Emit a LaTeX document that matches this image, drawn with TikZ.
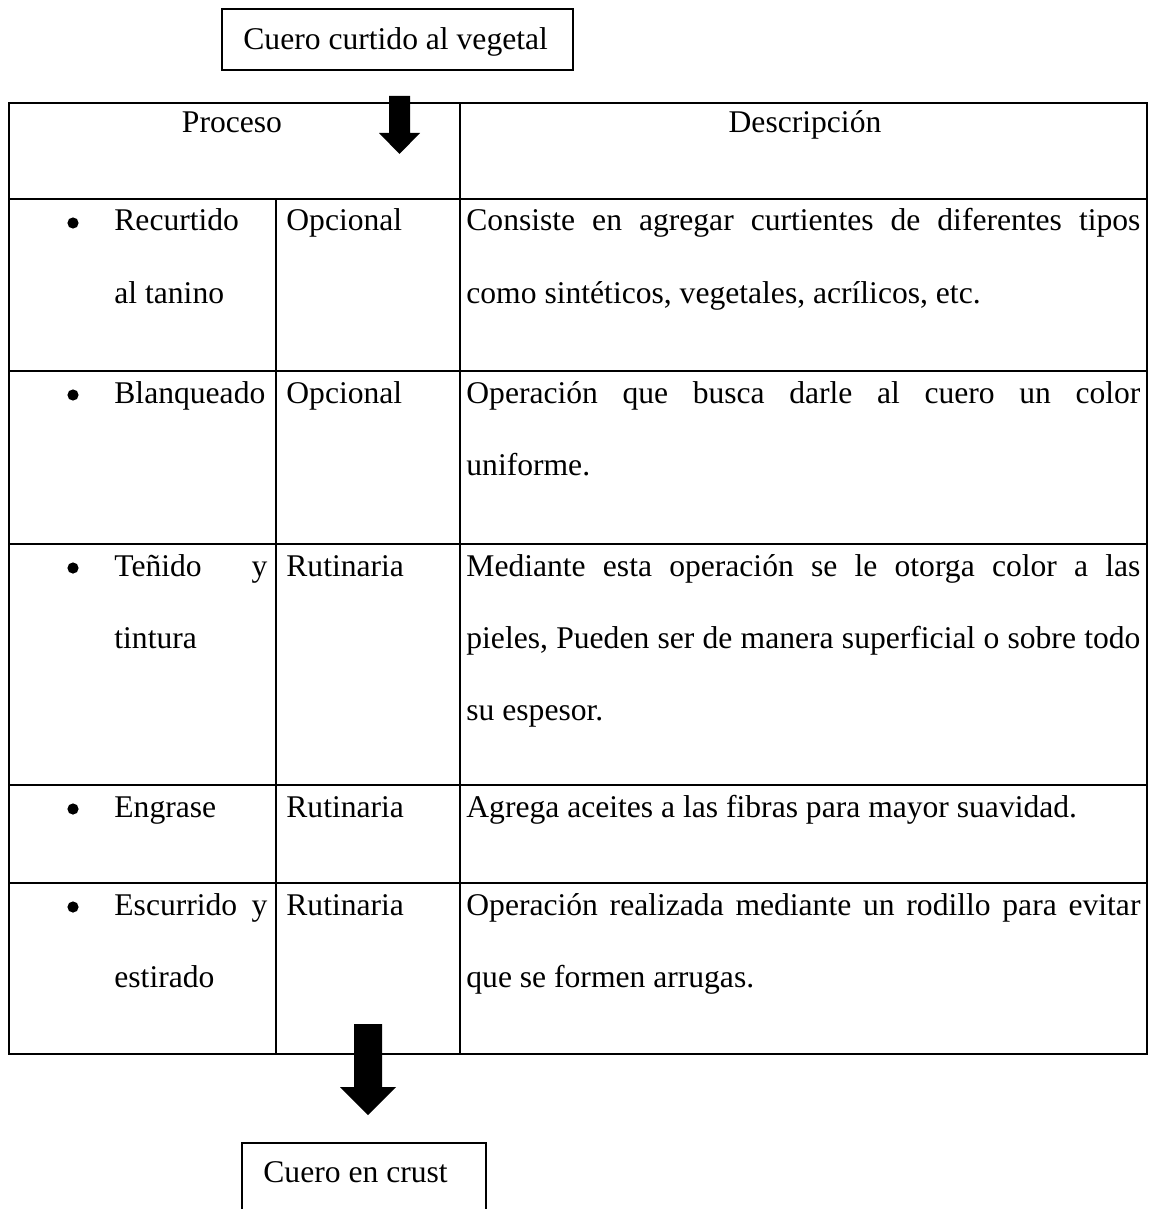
\documentclass[tikz,border=0pt]{standalone}
\usepackage{fontspec}
\setmainfont{Liberation Serif}
\begin{document}
\begin{tikzpicture}[x=0.5pt,y=-0.5pt,
  txt/.style={inner sep=0pt,anchor=base west,font=\fontsize{15.8pt}{18pt}\selectfont},
  ctxt/.style={txt,anchor=base},
  dot/.style={circle,fill=black,inner sep=0pt,minimum size=5.6pt},
  grid/.style={line width=1.15pt,black},
  boxline/.style={line width=0.85pt,black},
  blockarrow/.style={fill=black,draw=none}]
\clip (0,0) rectangle (1150,1209);
\fill[white] (0,0) rectangle (1150,1209);

% start and end boxes
\draw[boxline] (222,9) rectangle (573,70);
\node[txt] (start) at (243,50) {Cuero curtido al vegetal};
\draw[boxline] (242,1143) rectangle (486,1260);
\node[txt] (finish) at (263,1182) {Cuero en crust};

% table frame
\draw[grid] (9,103) rectangle (1147,1054);
\foreach \y in {199,371,544,785,883} \draw[grid] (9,\y) -- (1147,\y);
\draw[grid] (460,103) -- (460,1054);
\draw[grid] (276,199) -- (276,1054);

% header
\node[ctxt] (hproc) at (232,133) {Proceso};
\node[ctxt] (hdesc) at (805,133) {Descripción};

% column widths for justified lines
\def\cw{76.5pt}
\def\dw{337pt}

% row 1
\node[dot] (b1) at (73,223) {};
\node[txt] (p1a) at (114,231) {Recurtido};
\node[txt] (p1b) at (114,303) {al tanino};
\node[txt] (t1) at (286,231) {Opcional};
\node[txt] (d1a) at (466,231) {\makebox[\dw][s]{Consiste en agregar curtientes de diferentes tipos}};
\node[txt] (d1b) at (466,303) {como sintéticos, vegetales, acrílicos, etc.};

% row 2
\node[dot] (b2) at (73,395) {};
\node[txt] (p2a) at (114,403) {Blanqueado};
\node[txt] (t2) at (286,403) {Opcional};
\node[txt] (d2a) at (466,403) {\makebox[\dw][s]{Operación que busca darle al cuero un color}};
\node[txt] (d2b) at (466,475) {uniforme.};

% row 3
\node[dot] (b3) at (73,568) {};
\node[txt] (p3a) at (114,576) {\makebox[\cw][s]{Teñido y}};
\node[txt] (p3b) at (114,648) {tintura};
\node[txt] (t3) at (286,576) {Rutinaria};
\node[txt] (d3a) at (466,576) {\makebox[\dw][s]{Mediante esta operación se le otorga color a las}};
\node[txt] (d3b) at (466,648) {\makebox[\dw][s]{pieles, Pueden ser de manera superficial o sobre todo}};
\node[txt] (d3c) at (466,720) {su espesor.};

% row 4
\node[dot] (b4) at (73,809) {};
\node[txt] (p4a) at (114,817) {Engrase};
\node[txt] (t4) at (286,817) {Rutinaria};
\node[txt] (d4a) at (466,817) {Agrega aceites a las fibras para mayor suavidad.};

% row 5
\node[dot] (b5) at (73,907) {};
\node[txt] (p5a) at (114,915) {\makebox[\cw][s]{Escurrido y}};
\node[txt] (p5b) at (114,987) {estirado};
\node[txt] (t5) at (286,915) {Rutinaria};
\node[txt] (d5a) at (466,915) {\makebox[\dw][s]{Operación realizada mediante un rodillo para evitar}};
\node[txt] (d5b) at (466,987) {que se formen arrugas.};

% block arrows
\fill[blockarrow] (389,96) -- (410,96) -- (410,133) -- (420,133) -- (399.5,154)
  -- (379,133) -- (389,133) -- cycle;
\fill[blockarrow] (354,1024) -- (382,1024) -- (382,1087) -- (396,1087) -- (368,1115)
  -- (340,1087) -- (354,1087) -- cycle;
\end{tikzpicture}
\end{document}
